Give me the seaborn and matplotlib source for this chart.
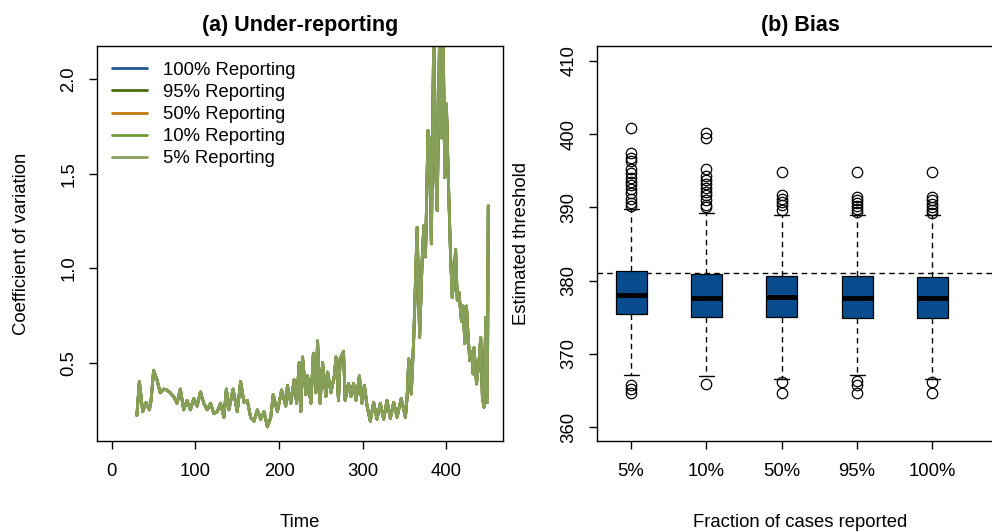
import matplotlib
matplotlib.use("Agg")
import matplotlib.pyplot as plt
import seaborn as sns

sns.set_theme(style="ticks")
plt.rcParams['font.family'] = ['Liberation Sans', 'DejaVu Sans']
plt.rcParams['text.color'] = 'black'
plt.rcParams['axes.labelcolor'] = 'black'
plt.rcParams['xtick.color'] = 'black'
plt.rcParams['ytick.color'] = 'black'

# (a) coefficient of variation over time (all reporting levels overlap)
time_points = [30, 33, 37, 41, 45, 47, 50, 54, 58, 62, 66, 70, 74, 78, 82, 86, 90, 94, 98,
               102, 106, 110, 114, 118, 122, 126, 130, 134, 137, 140, 145, 150, 154, 158,
               162, 166, 170, 174, 178, 182, 186, 190, 193, 198, 203, 208, 210, 214, 218,
               221, 224, 226, 228, 232, 234, 238, 241, 244, 246, 249, 252, 256, 258, 262,
               266, 268, 271, 273, 277, 279, 283, 286, 289, 292, 296, 299, 302, 305, 309,
               313, 317, 321, 325, 329, 333, 337, 341, 346, 351, 353, 355, 358, 361, 365,
               368, 371, 373, 375, 378, 380, 382, 385, 387, 389, 392, 394, 396, 398, 400,
               402, 405, 407, 409, 411, 413, 415, 418, 420, 422, 424, 426, 428, 430, 432,
               433, 436, 439, 441, 443, 445, 447, 449, 450]
cv_values = [0.22, 0.40, 0.24, 0.29, 0.25, 0.30, 0.458, 0.41, 0.34, 0.36, 0.355, 0.34, 0.32,
             0.285, 0.36, 0.25, 0.30, 0.25, 0.31, 0.27, 0.345, 0.285, 0.25, 0.285, 0.23,
             0.24, 0.285, 0.21, 0.36, 0.25, 0.36, 0.24, 0.40, 0.29, 0.30, 0.21, 0.19, 0.25,
             0.20, 0.24, 0.16, 0.21, 0.33, 0.24, 0.355, 0.27, 0.38, 0.285, 0.41, 0.285,
             0.50, 0.24, 0.53, 0.33, 0.43, 0.285, 0.55, 0.34, 0.615, 0.285, 0.50, 0.32,
             0.45, 0.34, 0.43, 0.53, 0.30, 0.52, 0.56, 0.30, 0.39, 0.32, 0.39, 0.30, 0.43,
             0.285, 0.38, 0.275, 0.19, 0.29, 0.20, 0.285, 0.20, 0.30, 0.205, 0.29, 0.21,
             0.31, 0.21, 0.317, 0.52, 0.334, 0.634, 1.217, 0.634, 1.04, 1.226, 1.06, 1.73,
             1.66, 1.129, 2.30, 1.55, 1.305, 2.30, 1.69, 2.30, 1.48, 1.87, 1.52, 1.06,
             0.846, 0.95, 1.10, 0.83, 0.873, 0.72, 0.80, 0.60, 0.80, 0.634, 0.51, 0.56,
             0.44, 0.58, 0.387, 0.51, 0.634, 0.317, 0.264, 0.74, 0.29, 1.33]
reporting_levels = ["100% Reporting", "95% Reporting", "50% Reporting",
                    "10% Reporting", "5% Reporting"]
line_colors = ["#1f5a96", "#4a6e0e", "#c0780f", "#6b9a36", "#86a05a"]

# (b) estimated threshold by fraction reported
fractions = ["5%", "10%", "50%", "95%", "100%"]
box_whislo = [367.1, 367.0, 366.6, 367.1, 366.6]
box_q1 = [375.5, 375.1, 375.0, 374.9, 374.9]
box_med = [378.0, 377.6, 377.7, 377.6, 377.6]
box_q3 = [381.3, 380.9, 380.6, 380.6, 380.5]
box_whishi = [389.8, 389.2, 388.9, 388.9, 388.9]
box_fliers = [
    [365.8, 365.2, 364.6, 390.2, 390.6, 391.2, 392.0, 392.5, 393.1, 393.5, 394.0,
     394.7, 395.3, 396.4, 396.7, 397.4, 400.8],
    [365.9, 390.0, 390.3, 391.0, 391.7, 392.1, 392.7, 393.2, 393.7, 394.3, 395.2,
     399.5, 400.2],
    [366.1, 364.6, 389.7, 390.3, 390.8, 391.2, 391.7, 394.8],
    [366.3, 365.7, 364.6, 389.4, 389.8, 390.2, 390.6, 391.0, 391.4, 394.8],
    [366.1, 364.6, 389.2, 389.7, 390.1, 390.5, 391.0, 391.4, 394.8],
]
true_threshold = 381

W, H = 992, 532
fig = plt.figure(figsize=(W / 100, H / 100), dpi=100)
ax1 = fig.add_axes([96.7 / W, 1 - 441 / H, 406.6 / W, 395 / H])
ax2 = fig.add_axes([596.7 / W, 1 - 441 / H, 406.6 / W, 395 / H])

fs = 13.3
for lvl, col in zip(reporting_levels, line_colors):
    sns.lineplot(x=time_points, y=cv_values, ax=ax1, color=col, lw=2,
                 label=lvl, estimator=None)

ax1.set_xlim(-18, 468)
ax1.set_ylim(0.085, 2.177)
ax1.set_xticks([0, 100, 200, 300, 400])
ax1.set_yticks([0.5, 1.0, 1.5, 2.0])
ax1.set_yticklabels(["0.5", "1.0", "1.5", "2.0"])
ax1.set_xlabel("Time", fontsize=fs, labelpad=24)
ax1.set_ylabel("Coefficient of variation", fontsize=fs, labelpad=22)
ax1.set_title("(a) Under-reporting", fontsize=15.5, fontweight="bold", pad=11)
ax1.legend(loc="upper left", frameon=False, fontsize=fs, handlelength=1.85,
           handletextpad=0.9, labelspacing=0.28, borderaxespad=0.45, borderpad=0.4)

stats = []
for i in range(len(fractions)):
    stats.append(dict(whislo=box_whislo[i], q1=box_q1[i], med=box_med[i],
                      q3=box_q3[i], whishi=box_whishi[i], fliers=box_fliers[i]))

ax2.bxp(stats, positions=range(1, len(fractions) + 1), widths=0.41, capwidths=0.2,
        patch_artist=True,
        boxprops=dict(facecolor="#084c8d", edgecolor="black", linewidth=0.9),
        medianprops=dict(color="black", linewidth=3.5, solid_capstyle="butt"),
        whiskerprops=dict(color="black", linestyle=(0, (4, 3)), linewidth=1),
        capprops=dict(color="black", linewidth=1),
        flierprops=dict(marker="o", markerfacecolor="none", markeredgecolor="black",
                        markersize=7.5, markeredgewidth=0.9))
ax2.axhline(true_threshold, color="black", lw=1, linestyle=(0, (4, 3)), zorder=0.5)
ax2.set_xlim(0.544, 5.94)
ax2.set_ylim(358.1, 412.05)
ax2.set_xticks(range(1, len(fractions) + 1))
ax2.set_xticklabels(fractions)
ax2.set_yticks([360, 370, 380, 390, 400, 410])
ax2.set_xlabel("Fraction of cases reported", fontsize=fs, labelpad=24)
ax2.set_ylabel("Estimated threshold", fontsize=fs, labelpad=22)
ax2.set_title("(b) Bias", fontsize=15.5, fontweight="bold", pad=11)

for ax in (ax1, ax2):
    ax.tick_params(axis="both", labelsize=fs, length=6, width=1, color="black",
                   direction="out", pad=8)
    ax.tick_params(axis="x", pad=10)
    ax.tick_params(axis="y", labelrotation=90)
    for lab in ax.get_yticklabels():
        lab.set_verticalalignment("center")
    for sp in ax.spines.values():
        sp.set_color("black")
        sp.set_linewidth(1)
    ax.grid(False)

fig.savefig("out.png", dpi=100)
